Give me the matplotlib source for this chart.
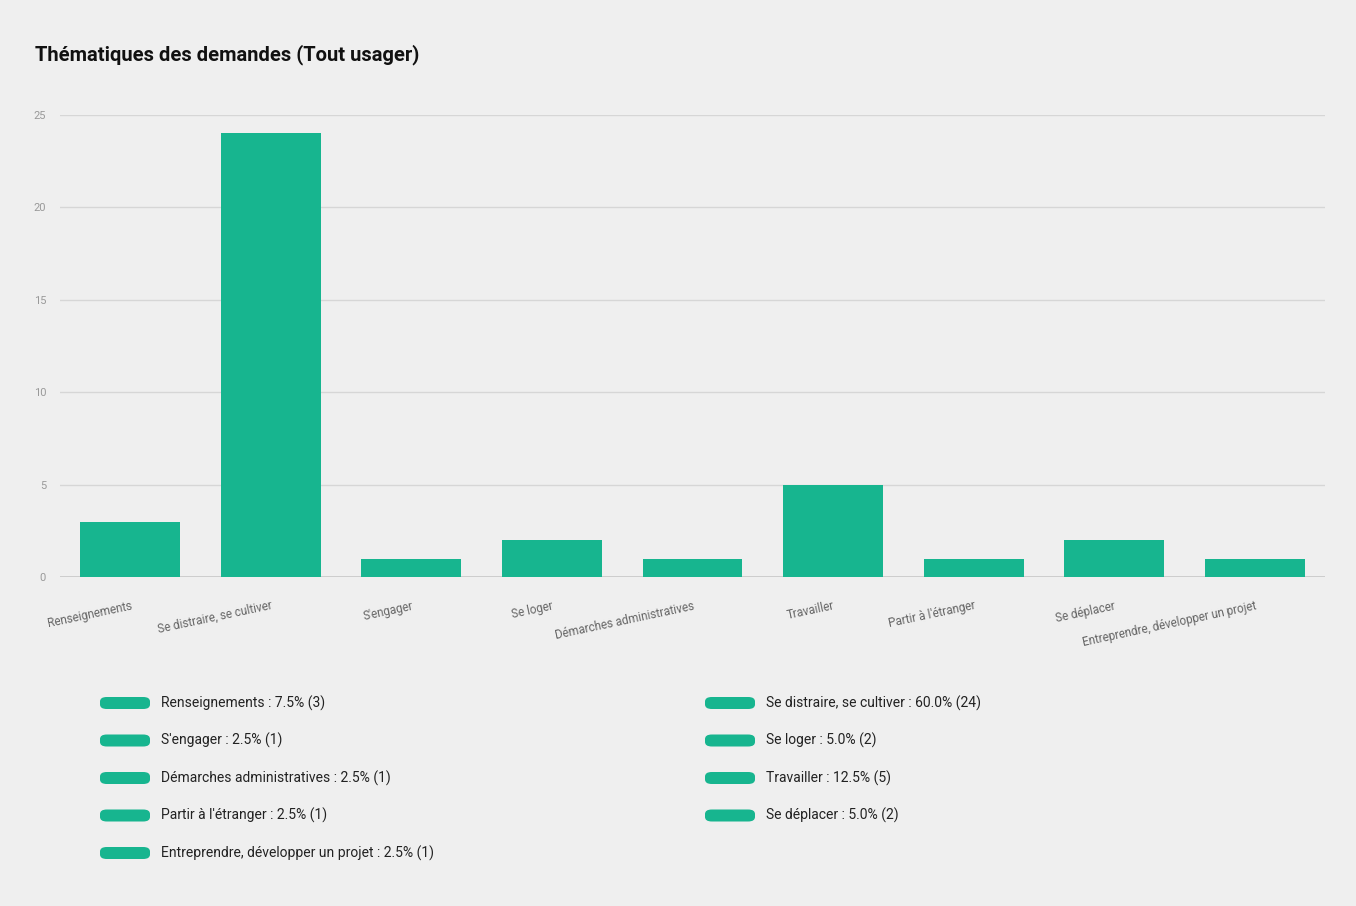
import matplotlib.pyplot as plt
from matplotlib.patches import FancyBboxPatch

categories = ["Renseignements", "Se distraire, se cultiver", "S'engager", "Se loger",
              "Démarches administratives", "Travailler", "Partir à l'étranger",
              "Se déplacer", "Entreprendre, développer un projet"]
counts = [3, 24, 1, 2, 1, 5, 1, 2, 1]

green = '#17b58f'
fonts = ['Liberation Sans Narrow', 'Roboto', 'DejaVu Sans']
plt.rcParams['font.family'] = fonts

fig = plt.figure(figsize=(13.56, 9.06), dpi=100, facecolor='#efefef')
ax = fig.add_axes([60 / 1356, 1 - 577 / 906, 1265 / 1356, 462 / 906])
ax.set_facecolor('#efefef')

ax.bar(range(len(counts)), counts, width=0.71, color=green, zorder=3)

ax.set_xlim(-0.5, len(counts) - 0.5)
ax.set_ylim(0, 25)
ax.set_yticks([0, 5, 10, 15, 20, 25])
ax.grid(axis='y', color='#d6d6d6', linewidth=1, zorder=0)
for s in ax.spines.values():
    s.set_visible(False)
ax.axhline(0, color='#c8c8c8', linewidth=1.2, zorder=2)

ax.set_xticks(range(len(categories)))
ax.set_xticklabels(categories, rotation=12, ha='right', va='top',
                   rotation_mode='anchor', fontsize=8.5, color='#666666')
ax.tick_params(axis='x', length=0, pad=16)
ax.tick_params(axis='y', length=0, pad=10, labelsize=8, labelcolor='#999999')

fig.text(35 / 1356, 1 - 55 / 906, "Thématiques des demandes (Tout usager)",
         fontsize=14.5, fontweight='bold', color='#111111', va='center', ha='left')

# legend, two columns, row-major order
total = sum(counts)
col_x = [100, 705]
for i, (cat, n) in enumerate(zip(categories, counts)):
    col = i % 2
    row = i // 2
    y = 703 + row * 37.5
    x = col_x[col]
    patch = FancyBboxPatch((x / 1356, 1 - (y + 6) / 906), 50 / 1356, 12 / 906,
                           boxstyle='round,pad=0,rounding_size=0.005',
                           transform=fig.transFigure, facecolor=green,
                           edgecolor='none')
    fig.patches.append(patch)
    fig.text((x + 61) / 1356, 1 - y / 906,
             f"{cat} : {n / total * 100:.1f}% ({n})",
             fontsize=10, color='#222222', va='center', ha='left')

fig.savefig('out.png', dpi=100, facecolor=fig.get_facecolor())
